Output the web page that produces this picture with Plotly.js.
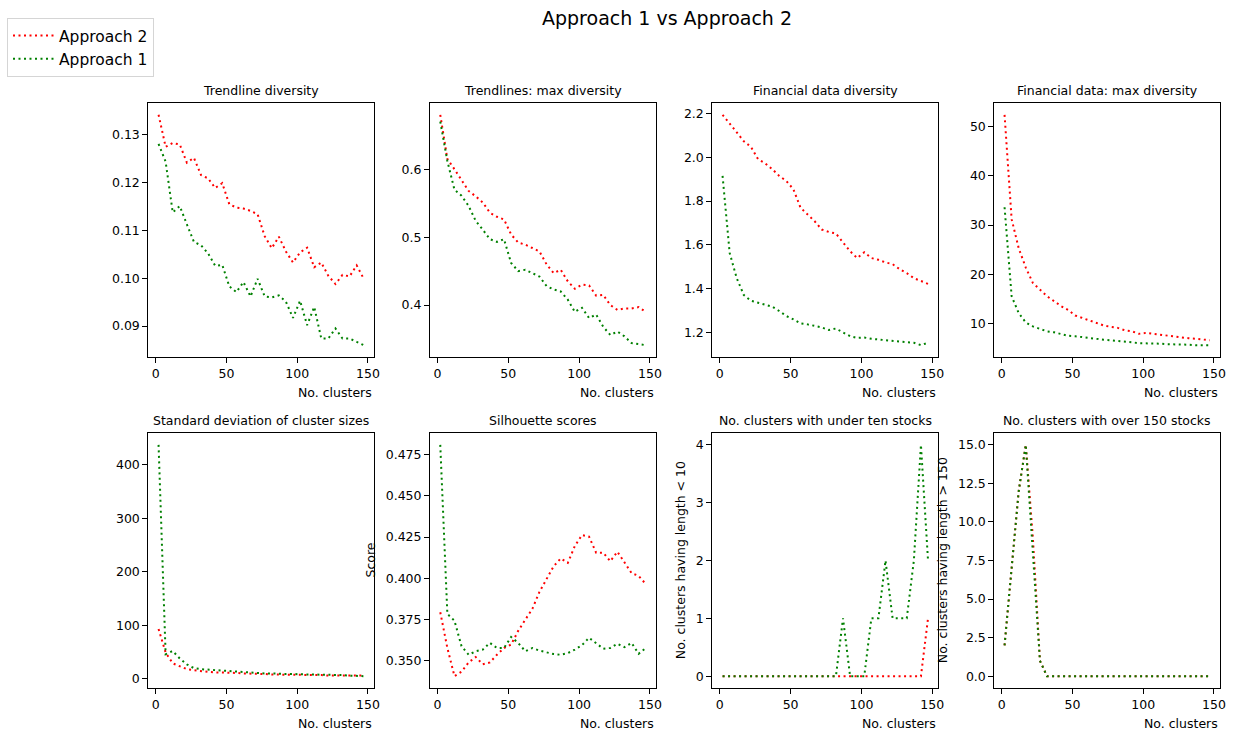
<!DOCTYPE html>
<html><head><meta charset="utf-8">
<script src="https://cdn.plot.ly/plotly-3.0.1.min.js"></script>
<style>html,body{margin:0;padding:0;background:#fff}</style>
</head><body><div id="chart" style="width:1233px;height:732px"></div>
<script>
// ---- data ----
const clusters = [2,7,12,17,22,27,32,37,42,47,52,57,62,67,72,77,82,87,92,97,102,107,112,117,122,127,132,137,142,147];
const xTicks = [0,50,100,150];

const trendDivA2 = [0.1342,0.1275,0.1283,0.1280,0.1242,0.1252,0.1216,0.1209,0.1189,0.1199,0.1155,0.1148,0.1146,0.1141,0.1134,0.1088,0.1063,0.1087,0.1056,0.1033,0.1054,0.1064,0.1023,0.1033,0.1005,0.0988,0.1007,0.1004,0.1027,0.0999];
const trendDivA1 = [0.1281,0.1244,0.1138,0.1151,0.1113,0.1076,0.1069,0.1052,0.1026,0.1028,0.0983,0.0971,0.0992,0.0962,0.0999,0.0962,0.0960,0.0964,0.0951,0.0917,0.0953,0.0902,0.0940,0.0874,0.0874,0.0895,0.0874,0.0874,0.0867,0.0860];

const trendMaxA2 = [0.680,0.615,0.600,0.584,0.568,0.560,0.551,0.536,0.530,0.526,0.504,0.492,0.489,0.484,0.479,0.460,0.447,0.452,0.435,0.424,0.430,0.429,0.414,0.415,0.400,0.393,0.395,0.395,0.397,0.390];
const trendMaxA1 = [0.670,0.612,0.570,0.561,0.546,0.524,0.511,0.497,0.493,0.497,0.462,0.450,0.452,0.447,0.442,0.428,0.423,0.420,0.408,0.390,0.396,0.381,0.386,0.368,0.356,0.361,0.354,0.344,0.343,0.341];

const finDivA2 = [2.194,2.156,2.114,2.073,2.048,1.992,1.973,1.946,1.915,1.892,1.854,1.770,1.739,1.708,1.670,1.659,1.652,1.609,1.571,1.540,1.566,1.540,1.532,1.520,1.512,1.489,1.471,1.448,1.436,1.422];
const finDivA1 = [1.915,1.563,1.448,1.371,1.345,1.336,1.330,1.318,1.298,1.275,1.260,1.241,1.237,1.229,1.223,1.211,1.218,1.200,1.183,1.175,1.177,1.171,1.168,1.165,1.162,1.156,1.153,1.153,1.142,1.153];

const finMaxA2 = [52.3,31.2,25.3,21.4,18.3,17.0,15.6,14.6,13.6,12.8,11.7,11.2,10.7,10.2,9.7,9.4,9.2,8.7,8.5,8.0,8.2,8.0,7.8,7.6,7.5,7.3,7.1,7.0,6.8,6.7];
const finMaxA1 = [33.6,15.6,12.2,10.3,9.5,9.0,8.5,8.3,8.0,7.6,7.5,7.3,7.2,7.0,6.8,6.7,6.6,6.5,6.3,6.1,6.1,6.0,6.0,5.9,5.9,5.8,5.8,5.7,5.7,5.7];

const stdSizeA2 = [93,49,29,24,18,16,14,13,12,12,11,11,10,10,9,9,8,8,8,7,7,7,7,7,6,6,6,6,6,6];
const stdSizeA1 = [437,46,52,38,27,20,18,17,16,15,15,14,12,12,11,10,10,9,9,9,8,8,8,8,7,7,7,6,6,5];

const silA2 = [0.3793,0.3576,0.3405,0.3432,0.3488,0.3521,0.3477,0.3488,0.3535,0.3576,0.3597,0.3680,0.3748,0.3814,0.3917,0.3990,0.4072,0.4120,0.4093,0.4196,0.4262,0.4252,0.4155,0.4155,0.4103,0.4161,0.4093,0.4031,0.4014,0.3965];
const silA1 = [0.4810,0.3783,0.3742,0.3587,0.3535,0.3556,0.3566,0.3607,0.3576,0.3576,0.3643,0.3607,0.3556,0.3576,0.3560,0.3550,0.3539,0.3535,0.3545,0.3566,0.3593,0.3638,0.3607,0.3572,0.3576,0.3601,0.3581,0.3607,0.3541,0.3576];

const underTenA2 = [0,0,0,0,0,0,0,0,0,0,0,0,0,0,0,0,0,0,0,0,0,0,0,0,0,0,0,0,0,1];
const underTenA1 = [0,0,0,0,0,0,0,0,0,0,0,0,0,0,0,0,0,1,0,0,0,1,1,2,1,1,1,2,4,2];

const over150A2 = [2,7,12,15,9,1,0,0,0,0,0,0,0,0,0,0,0,0,0,0,0,0,0,0,0,0,0,0,0,0];
const over150A1 = [2,7,12,15,8,1,0,0,0,0,0,0,0,0,0,0,0,0,0,0,0,0,0,0,0,0,0,0,0,0];

const titles = ['Trendline diversity','Trendlines: max diversity','Financial data diversity','Financial data: max diversity',
  'Standard deviation of cluster sizes','Silhouette scores','No. clusters with under ten stocks','No. clusters with over 150 stocks'];
const yLabels = ['','','','','','Score','No. clusters having length < 10','No. clusters having length > 150'];
const seriesNames = ['Approach 2','Approach 1'];

// ---- layout helpers ----
const W = 1233, H = 732;
const colL = [148.3, 430, 712.3, 994.3], colR = [374, 656, 938.3, 1220];
const rowT = [103.3, 433.3], rowB = [356.7, 687.7];
const yLabelX = [null, null, null, null, null, 370, 680.7, 942.7];
const FONT = 'DejaVu Sans';
const tickFont = {family: FONT, size: 12.5, color: '#000'};

const panelData = [
  [trendDivA2, trendDivA1, 0.01, '.2f'],
  [trendMaxA2, trendMaxA1, 0.1, '.1f'],
  [finDivA2, finDivA1, 0.2, '.1f'],
  [finMaxA2, finMaxA1, 10, 'd'],
  [stdSizeA2, stdSizeA1, 100, 'd'],
  [silA2, silA1, 0.025, '.3f'],
  [underTenA2, underTenA1, 1, 'd'],
  [over150A2, over150A1, 2.5, '.1f']
];
const colors = ['#ff0000', '#008000'];

const traces = [];
const layout = {
  width: W, height: H,
  margin: {l: 0, r: 0, t: 0, b: 0},
  paper_bgcolor: '#fff', plot_bgcolor: '#fff',
  font: {family: FONT, color: '#000'},
  showlegend: true,
  legend: {
    x: 7 / W, y: 1 - 18 / H, xanchor: 'left', yanchor: 'top',
    bordercolor: '#d5d5d5', borderwidth: 1, bgcolor: '#fff',
    font: {family: FONT, size: 15.5, color: '#000'},
    itemwidth: 41, tracegroupgap: 0
  },
  annotations: []
};

panelData.forEach((p, i) => {
  const row = Math.floor(i / 4), col = i % 4;
  const sfx = i === 0 ? '' : String(i + 1);
  const xa = 'x' + sfx, ya = 'y' + sfx;
  [p[0], p[1]].forEach((vals, s) => {
    traces.push({
      x: clusters, y: vals, xaxis: xa, yaxis: ya, type: 'scatter', mode: 'lines',
      name: seriesNames[s], legendgroup: seriesNames[s], showlegend: i === 0,
      line: {color: colors[s], width: 2, dash: '2px,3.5px'},
      hoverinfo: 'skip'
    });
  });
  const all = p[0].concat(p[1]);
  const mn = Math.min(...all), mx = Math.max(...all), pad = 0.05 * (mx - mn);
  const xmn = Math.min(...clusters), xmx = Math.max(...clusters), xpad = 0.05 * (xmx - xmn);
  const common = {
    showline: true, mirror: true, linecolor: '#000', linewidth: 1,
    ticks: 'outside', ticklen: 5, tickwidth: 1, tickcolor: '#000',
    showgrid: false, zeroline: false, tickfont: tickFont, fixedrange: true
  };
  layout['xaxis' + sfx] = Object.assign({}, common, {
    domain: [colL[col] / W, colR[col] / W], anchor: ya,
    range: [xmn - xpad, xmx + xpad], tickmode: 'array', tickvals: xTicks
  });
  layout['yaxis' + sfx] = Object.assign({}, common, {
    domain: [1 - rowB[row] / H, 1 - rowT[row] / H], anchor: xa,
    range: [mn - pad, mx + pad], tickmode: 'linear', tick0: 0, dtick: p[2], tickformat: p[3]
  });
  layout.annotations.push({
    text: titles[i], xref: 'paper', yref: 'paper',
    x: (colL[col] + colR[col]) / 2 / W, y: 1 - (rowT[row] - 13) / H,
    xanchor: 'center', yanchor: 'middle', showarrow: false,
    font: {family: FONT, size: 12.5, color: '#000'}
  });
  layout.annotations.push({
    text: 'No. clusters', xref: 'paper', yref: 'paper',
    x: colR[col] / W, y: 1 - (rowB[row] + 35.5) / H,
    xanchor: 'right', yanchor: 'middle', showarrow: false,
    font: {family: FONT, size: 12.5, color: '#000'}
  });
  if (yLabels[i]) {
    layout.annotations.push({
      text: yLabels[i], xref: 'paper', yref: 'paper', textangle: -90,
      x: yLabelX[i] / W, y: 1 - ((rowT[row] + rowB[row]) / 2) / H,
      xanchor: 'center', yanchor: 'middle', showarrow: false,
      font: {family: FONT, size: 12.5, color: '#000'}
    });
  }
});

layout.annotations.push({
  text: 'Approach 1 vs Approach 2', xref: 'paper', yref: 'paper',
  x: 667 / W, y: 1 - 18 / H, xanchor: 'center', yanchor: 'middle', showarrow: false,
  font: {family: FONT, size: 19, color: '#000'}
});

Plotly.newPlot('chart', traces, layout, {staticPlot: true, displayModeBar: false});
</script>
</body></html>
